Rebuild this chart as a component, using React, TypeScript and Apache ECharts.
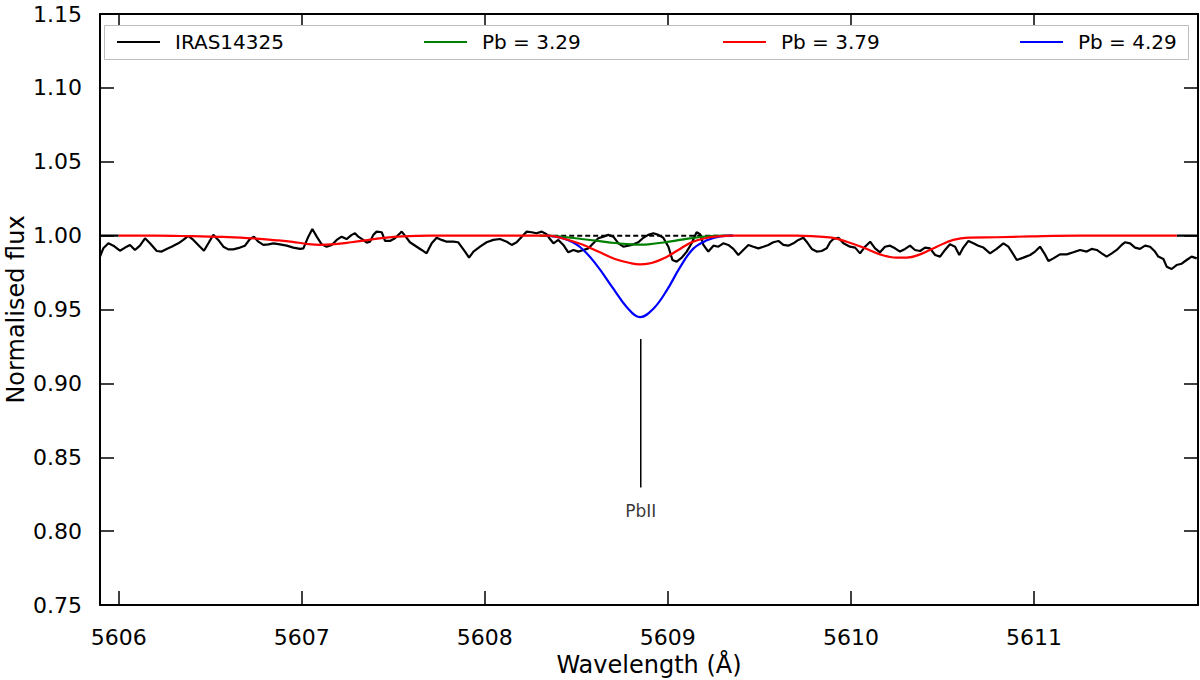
import React, { useEffect, useRef } from "react";
import * as echarts from "echarts";

const FONT = "DejaVu Sans";

// x tick labels (Å)
const xTickValues = [5606, 5607, 5608, 5609, 5610, 5611];
const xMin = 5605.898;
const xMax = 5611.896;

// Observed spectrum IRAS14325
const obsWave = [
  5605.898, 5605.916, 5605.944, 5605.971, 5606.007, 5606.035, 5606.062, 5606.089, 5606.116, 5606.144,
  5606.171, 5606.208, 5606.235, 5606.262, 5606.289, 5606.326, 5606.353, 5606.380, 5606.408, 5606.444,
  5606.466, 5606.490, 5606.517, 5606.544, 5606.572, 5606.599, 5606.626, 5606.663, 5606.690, 5606.717,
  5606.739, 5606.763, 5606.790, 5606.818, 5606.845, 5606.881, 5606.918, 5606.954, 5606.991, 5607.009,
  5607.036, 5607.058, 5607.082, 5607.109, 5607.136, 5607.164, 5607.191, 5607.218, 5607.245, 5607.273,
  5607.291, 5607.309, 5607.336, 5607.355, 5607.373, 5607.391, 5607.409, 5607.437, 5607.455, 5607.482,
  5607.509, 5607.537, 5607.546, 5607.564, 5607.591, 5607.628, 5607.655, 5607.682, 5607.710, 5607.737,
  5607.764, 5607.792, 5607.828, 5607.855,
  5607.892, 5607.914, 5607.938, 5607.974, 5608.010, 5608.047, 5608.083, 5608.120, 5608.147, 5608.174,
  5608.202, 5608.229, 5608.256, 5608.283, 5608.311, 5608.338, 5608.356, 5608.375, 5608.402, 5608.429,
  5608.456, 5608.484, 5608.511, 5608.538, 5608.566, 5608.593, 5608.620, 5608.648, 5608.675, 5608.702,
  5608.730, 5608.757, 5608.784, 5608.812, 5608.839, 5608.866, 5608.893, 5608.921, 5608.948, 5608.975,
  5609.003, 5609.025, 5609.048, 5609.076, 5609.103, 5609.130, 5609.157, 5609.176, 5609.194, 5609.221,
  5609.249, 5609.276, 5609.303, 5609.330, 5609.358, 5609.385, 5609.412, 5609.440, 5609.467, 5609.494,
  5609.522, 5609.549, 5609.576, 5609.604, 5609.631, 5609.658, 5609.686, 5609.713, 5609.740, 5609.758,
  5609.786, 5609.813, 5609.840, 5609.868,
  5609.886, 5609.904, 5609.932, 5609.959, 5609.995, 5610.023, 5610.050, 5610.077, 5610.105, 5610.132,
  5610.159, 5610.186, 5610.214, 5610.241, 5610.268, 5610.296, 5610.323, 5610.350, 5610.378, 5610.405,
  5610.432, 5610.460, 5610.487, 5610.514, 5610.541, 5610.569, 5610.592, 5610.614, 5610.642, 5610.669,
  5610.696, 5610.724, 5610.760, 5610.796, 5610.833, 5610.860, 5610.878, 5610.906, 5610.942, 5610.979,
  5611.006, 5611.033, 5611.060, 5611.079, 5611.106, 5611.142, 5611.179, 5611.215, 5611.252, 5611.288,
  5611.315, 5611.343, 5611.370, 5611.397, 5611.425, 5611.452, 5611.479, 5611.497, 5611.525, 5611.552,
  5611.579, 5611.607, 5611.634, 5611.661, 5611.679, 5611.707, 5611.725, 5611.752, 5611.779, 5611.807,
  5611.834, 5611.861, 5611.889,
];
const obsFlux = [
  0.9858, 0.9914, 0.9948, 0.9932, 0.9898, 0.9919, 0.9937, 0.9903, 0.9932, 0.9982,
  0.9948, 0.9896, 0.9892, 0.9910, 0.9925, 0.9948, 0.9971, 0.9998, 0.9971, 0.9925,
  0.9898, 0.9948, 1.0005, 0.9971, 0.9925, 0.9907, 0.9907, 0.9919, 0.9932, 0.9977,
  0.9993, 0.9959, 0.9937, 0.9941, 0.9948, 0.9941, 0.9932, 0.9919, 0.9910, 0.9914,
  0.9993, 1.0045, 0.9993, 0.9941, 0.9925, 0.9937, 0.9971, 0.9993, 0.9977, 1.0005,
  1.0016, 0.9993, 0.9971, 0.9953, 0.9959, 1.0005, 1.0027, 1.0023, 0.9964, 0.9964,
  0.9982, 1.0016, 1.0027, 1.0000, 0.9955, 0.9925, 0.9903, 0.9880, 0.9948, 0.9986,
  0.9971, 0.9959, 0.9959, 0.9955,
  0.9892, 0.9851, 0.9892, 0.9925, 0.9955, 0.9971, 0.9977, 0.9959, 0.9937, 0.9955,
  0.9993, 1.0027, 1.0023, 1.0016, 1.0027, 1.0009, 0.9977, 0.9948, 0.9971, 0.9937,
  0.9887, 0.9903, 0.9892, 0.9903, 0.9914, 0.9948, 0.9982, 0.9993, 1.0005, 0.9993,
  0.9948, 0.9925, 0.9932, 0.9941, 0.9955, 0.9986, 1.0005, 1.0016, 1.0005, 0.9986,
  0.9925, 0.9835, 0.9824, 0.9851, 0.9892, 0.9948, 1.0023, 1.0009, 0.9937, 0.9892,
  0.9932, 0.9925, 0.9948, 0.9937, 0.9910, 0.9869, 0.9903, 0.9937, 0.9925, 0.9914,
  0.9925, 0.9937, 0.9955, 0.9964, 0.9937, 0.9932, 0.9948, 0.9971, 0.9986, 0.9959,
  0.9910, 0.9892, 0.9896, 0.9914,
  0.9955, 0.9977, 0.9986, 0.9948, 0.9925, 0.9919, 0.9880, 0.9925, 0.9959, 0.9914,
  0.9887, 0.9925, 0.9932, 0.9914, 0.9892, 0.9910, 0.9932, 0.9903, 0.9896, 0.9919,
  0.9914, 0.9869, 0.9858, 0.9903, 0.9941, 0.9925, 0.9869, 0.9919, 0.9964, 0.9948,
  0.9932, 0.9919, 0.9880, 0.9910, 0.9948, 0.9925, 0.9892, 0.9835, 0.9851, 0.9869,
  0.9892, 0.9925, 0.9873, 0.9828, 0.9846, 0.9873, 0.9873, 0.9887, 0.9903, 0.9892,
  0.9910, 0.9903, 0.9880, 0.9858, 0.9880, 0.9903, 0.9937, 0.9955, 0.9948, 0.9919,
  0.9910, 0.9932, 0.9925, 0.9892, 0.9858, 0.9842, 0.9790, 0.9774, 0.9801, 0.9810,
  0.9835, 0.9858, 0.9846,
];

// Synthetic spectrum, Pb = 3.79 (full range)
const redWave = [
  5606.0, 5606.2, 5606.4, 5606.6, 5606.75, 5606.85, 5606.95, 5607.02, 5607.1, 5607.18,
  5607.27, 5607.36, 5607.45, 5607.55, 5607.7, 5608.0, 5608.347, 5608.438, 5608.529, 5608.62,
  5608.711, 5608.802, 5608.848, 5608.893, 5608.985, 5609.057, 5609.13, 5609.203, 5609.276, 5609.349,
  5609.55, 5609.7, 5609.804, 5609.895, 5609.977, 5610.068, 5610.159, 5610.25, 5610.305, 5610.378,
  5610.469, 5610.56, 5610.651, 5610.796, 5610.979, 5611.25, 5611.5, 5611.78,
];
const redFlux = [
  1.0, 1.0, 0.9996, 0.999, 0.998, 0.997, 0.9958, 0.9945, 0.9937, 0.9942,
  0.9955, 0.997, 0.9985, 0.9995, 1.0, 1.0, 1.0, 0.9977, 0.9941, 0.9892,
  0.9842, 0.9812, 0.9806, 0.981, 0.9851, 0.9903, 0.9955, 0.9982, 0.9995, 1.0,
  1.0, 1.0, 0.9995, 0.9986, 0.9959, 0.9919, 0.9873, 0.9851, 0.9851, 0.9873,
  0.9925, 0.9971, 0.9986, 0.9989, 0.9995, 1.0, 1.0, 1.0,
];

// Synthetic spectrum, Pb = 3.29 (around the Pb II line)
const greenWave = [5608.3, 5608.4, 5608.529, 5608.62, 5608.711, 5608.802, 5608.848, 5608.893, 5608.985, 5609.076, 5609.167, 5609.258, 5609.35];
const greenFlux = [1.0, 0.9995, 0.9977, 0.9964, 0.995, 0.9941, 0.9939, 0.9941, 0.9955, 0.9973, 0.9989, 0.9998, 1.0];

// Synthetic spectrum, Pb = 4.29 (around the Pb II line)
const blueWave = [5608.339, 5608.429, 5608.52, 5608.612, 5608.702, 5608.776, 5608.848, 5608.921, 5608.994, 5609.067, 5609.139, 5609.213, 5609.285, 5609.358];
const blueFlux = [1.0, 0.998, 0.9923, 0.9799, 0.9641, 0.9516, 0.9448, 0.9505, 0.9629, 0.9787, 0.9912, 0.9968, 0.9995, 1.0];

// Pb-free synthesis (dashed), visible around the line
const dashWave = [5608.33, 5609.35];
const dashFlux = [1.0, 1.0];

// Line identification
const lineWave = 5608.852;
const lineTop = 0.930;
const lineBottom = 0.8296;
const lineLabelY = 0.8138;
const lineLabel = "PbII";

const zip = (a: number[], b: number[]) => a.map((v, i) => [v, b[i]]);

export default function App() {
  const ref = useRef<HTMLDivElement>(null);
  useEffect(() => {
    if (!ref.current) return;
    const chart = echarts.init(ref.current, undefined, { renderer: "svg" });
    const axisLine = { show: true, lineStyle: { color: "#000", width: 2 } };
    const tick = { inside: true, length: 14, lineStyle: { color: "#000", width: 1.5 } };
    const legendBase = {
      top: 32,
      icon: "rect",
      itemWidth: 43,
      itemHeight: 2,
      padding: 0,
      selectedMode: false,
      z: 20,
      textStyle: { fontFamily: FONT, fontSize: 20, color: "#000", padding: [0, 0, 0, 10] },
    };
    const option: any = {
      animation: false,
      backgroundColor: "#fff",
      grid: { left: 100, right: 2, top: 14, bottom: 75, containLabel: false, outerBoundsMode: "none" },
      xAxis: [
        {
          type: "value",
          min: xMin,
          max: xMax,
          position: "bottom",
          name: "Wavelength (Å)",
          nameLocation: "middle",
          nameGap: 48,
          nameTextStyle: { fontFamily: FONT, fontSize: 24, color: "#000" },
          axisLine,
          splitLine: { show: false },
          axisTick: { ...tick, customValues: xTickValues },
          axisLabel: {
            fontFamily: FONT,
            fontSize: 22,
            color: "#000",
            margin: 21,
            customValues: xTickValues,
            formatter: (v: number) => String(Math.round(v)),
          },
        },
        {
          type: "value",
          min: xMin,
          max: xMax,
          position: "top",
          axisLine,
          splitLine: { show: false },
          axisTick: { ...tick, customValues: xTickValues },
          axisLabel: { show: false },
        },
      ],
      yAxis: [
        {
          type: "value",
          min: 0.75,
          max: 1.15,
          interval: 0.05,
          position: "left",
          name: "Normalised flux",
          nameLocation: "middle",
          nameGap: 72,
          nameMoveOverlap: false,
          nameTextStyle: { fontFamily: FONT, fontSize: 24, color: "#000" },
          axisLine,
          splitLine: { show: false },
          axisTick: tick,
          axisLabel: {
            fontFamily: FONT,
            fontSize: 22,
            color: "#000",
            margin: 18,
            formatter: (v: number) => v.toFixed(2),
          },
        },
        {
          type: "value",
          min: 0.75,
          max: 1.15,
          interval: 0.05,
          position: "right",
          axisLine,
          splitLine: { show: false },
          axisTick: tick,
          axisLabel: { show: false },
        },
      ],
      legend: [
        { ...legendBase, left: 117, data: ["IRAS14325"] },
        { ...legendBase, left: 424, data: ["Pb = 3.29"] },
        { ...legendBase, left: 723, data: ["Pb = 3.79"] },
        { ...legendBase, left: 1020, data: ["Pb = 4.29"] },
      ],
      graphic: [
        {
          type: "rect",
          left: 104,
          top: 25,
          z: 10,
          shape: { width: 1084, height: 34 },
          style: { fill: "#fff", stroke: "#bdbdbd", lineWidth: 1 },
        },
      ],
      series: [
        {
          name: "IRAS14325",
          type: "line",
          data: zip(obsWave, obsFlux),
          symbol: "none",
          color: "#000",
          lineStyle: { color: "#000", width: 2.2 },
          z: 2,
        },
        {
          name: "noPb",
          type: "line",
          data: zip(dashWave, dashFlux),
          symbol: "none",
          color: "#000",
          lineStyle: { color: "#000", width: 2, type: [5, 3] },
          z: 3,
        },
        {
          name: "edges",
          type: "line",
          data: [[xMin, 1.0], [5606.0, 1.0], null, [5611.78, 1.0], [xMax, 1.0]],
          connectNulls: false,
          symbol: "none",
          color: "#000",
          lineStyle: { color: "#000", width: 2.2 },
          z: 3,
        },
        {
          name: "Pb = 3.29",
          type: "line",
          data: zip(greenWave, greenFlux),
          symbol: "none",
          smooth: 0.4,
          color: "#008000",
          lineStyle: { color: "#008000", width: 2.2 },
          z: 4,
        },
        {
          name: "Pb = 4.29",
          type: "line",
          data: zip(blueWave, blueFlux),
          symbol: "none",
          smooth: 0.4,
          color: "#0000ff",
          lineStyle: { color: "#0000ff", width: 2.2 },
          z: 5,
        },
        {
          name: "Pb = 3.79",
          type: "line",
          data: zip(redWave, redFlux),
          symbol: "none",
          smooth: 0.4,
          color: "#ff0000",
          lineStyle: { color: "#ff0000", width: 2.2 },
          z: 6,
        },
        {
          name: "PbII mark",
          type: "line",
          data: [[lineWave, lineTop], [lineWave, lineBottom]],
          symbol: "none",
          color: "#000",
          lineStyle: { color: "#000", width: 1.5 },
          z: 6,
        },
        {
          name: "PbII label",
          type: "scatter",
          data: [[lineWave, lineLabelY]],
          symbolSize: 0,
          label: {
            show: true,
            position: "inside",
            formatter: lineLabel,
            fontFamily: FONT,
            fontSize: 17,
            color: "#000",
          },
          z: 6,
        },
      ],
    };
    chart.setOption(option);
    return () => chart.dispose();
  }, []);
  return (
    <div
      ref={ref}
      style={{ position: "fixed", left: 0, top: 0, width: 1200, height: 680, background: "#fff" }}
    />
  );
}
